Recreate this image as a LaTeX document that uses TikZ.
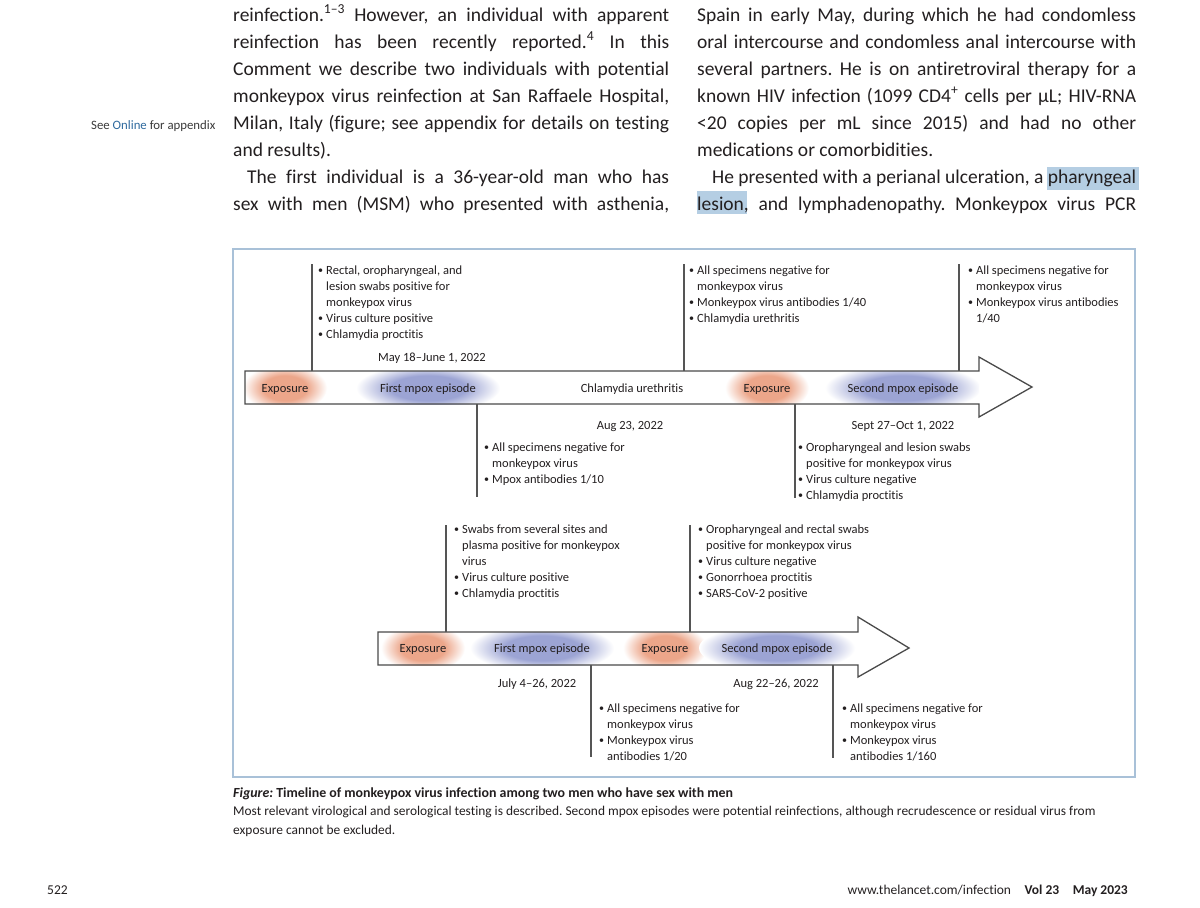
\documentclass[tikz,border=0pt]{standalone}
\usepackage{fontspec}
\setmainfont{Carlito}[Ligatures=NoCommon]
\usetikzlibrary{positioning}

\definecolor{ink}{HTML}{231F20}
\definecolor{boxblue}{HTML}{A9C1D8}
\definecolor{hilite}{HTML}{B5CEE3}
\definecolor{onlineblue}{HTML}{2F6A9E}
\definecolor{notegray}{HTML}{3A3A3A}
\definecolor{tickgray}{HTML}{555555}
\definecolor{arrowgray}{HTML}{4A4A4A}
\definecolor{expo}{RGB}{236,166,138}
\definecolor{epi}{RGB}{156,164,212}

\pgfdeclareradialshading{expoglow}{\pgfpoint{0bp}{0bp}}{color(0bp)=(expo); color(13bp)=(expo); color(25bp)=(white); color(50bp)=(white)}
\pgfdeclareradialshading{epiglow}{\pgfpoint{0bp}{0bp}}{color(0bp)=(epi); color(13bp)=(epi); color(25bp)=(white); color(50bp)=(white)}

\newcommand\bu{\rule{0pt}{10pt}\makebox[8pt][l]{\raisebox{0.6pt}{\fontsize{10}{10}\selectfont\textbullet}}}
\newcommand\bc{\hspace*{8pt}}
\newcommand\jl[2]{\makebox[#1pt][s]{#2}}
\frenchspacing

\begin{document}
\begin{tikzpicture}[x=1pt, y=-1pt,
  body/.style={font=\fontsize{19.5}{27}\selectfont, text=ink, inner sep=0pt, anchor=base west},
  fig/.style={font=\fontsize{12.5}{16}\selectfont, text=ink, inner sep=0pt},
  bul/.style={fig, align=left, anchor=north west},
  lbl/.style={fig, anchor=base},
  tick/.style={draw=tickgray, line width=1.1pt},
  arrowbox/.style={draw=arrowgray, line width=1.3pt, line join=miter},
]
\useasboundingbox (0,0) rectangle (1200,908);
\fill[white] (0,0) rectangle (1200,908);

%% text above the figure
\fill[hilite] (1047,167) rectangle (1139,190);
\fill[hilite] (697,191) rectangle (747,214);

\node[body] (l1) at (233,21) {\jl{436}{reinfection.\textsuperscript{1–3} However, an individual with apparent}};
\node[body] (l2) at (233,48) {\jl{436}{reinfection has been recently reported.\textsuperscript{4} In this}};
\node[body] (l3) at (233,75) {\jl{436}{Comment we describe two individuals with potential}};
\node[body] (l4) at (233,102) {\jl{436}{monkeypox virus reinfection at San Raffaele Hospital,}};
\node[body] (l5) at (233,129) {\jl{436}{Milan, Italy (figure; see appendix for details on testing}};
\node[body] (l6) at (233,156) {and results).};
\node[body] (l7) at (247,183) {\jl{422}{The first individual is a 36-year-old man who has}};
\node[body] (l8) at (233,210) {\jl{436}{sex with men (MSM) who presented with asthenia,}};

\node[body] (r1) at (697,21) {\jl{439}{Spain in early May, during which he had condomless}};
\node[body] (r2) at (697,48) {\jl{439}{oral intercourse and condomless anal intercourse with}};
\node[body] (r3) at (697,75) {\jl{439}{several partners. He is on antiretroviral therapy for a}};
\node[body] (r4) at (697,102) {\jl{439}{known HIV infection (1099 CD4\textsuperscript{+} cells per µL; HIV-RNA}};
\node[body] (r5) at (697,129) {\jl{439}{<20 copies per mL since 2015) and had no other}};
\node[body] (r6) at (697,156) {medications or comorbidities.};
\node[body] (r7) at (712,183) {\jl{424}{He presented with a perianal ulceration, a pharyngeal}};
\node[body] (r8) at (697,210) {\jl{439}{lesion, and lymphadenopathy. Monkeypox virus PCR}};

\node[font=\fontsize{12.8}{14}\selectfont, text=notegray, inner sep=0pt, anchor=base west] (see) at (91,129)
  {See \textcolor{onlineblue}{Online} for appendix};

%% figure frame
\draw[boxblue, line width=1.2pt] (233,249) rectangle (1135,777);

%% glows
\begin{scope}
\clip (245,371) rectangle (979,404);
\shade[shading=expoglow] (285,388) ellipse [x radius=42, y radius=24];
\shade[shading=epiglow] (428,388) ellipse [x radius=72, y radius=24];
\shade[shading=expoglow] (767,388) ellipse [x radius=42, y radius=24];
\shade[shading=epiglow] (903,388) ellipse [x radius=78, y radius=24];
\end{scope}
\begin{scope}
\clip (378,632) rectangle (858,665);
\shade[shading=expoglow] (423,648) ellipse [x radius=42, y radius=24];
\shade[shading=epiglow] (542,648) ellipse [x radius=72, y radius=24];
\shade[shading=expoglow] (665,648) ellipse [x radius=42, y radius=24];
\shade[shading=epiglow] (777,648) ellipse [x radius=78, y radius=24];
\end{scope}

%% first man
\draw[arrowbox] (245,371) -- (979,371) -- (979,357) -- (1032,387) -- (979,417) -- (979,404) -- (245,404) -- cycle;

\node[lbl] (ex1) at (285,392) {Exposure};
\node[lbl] (ep1) at (428,392) {First mpox episode};
\node[lbl] (cu) at (632,392) {Chlamydia urethritis};
\node[lbl] (ex2) at (767,392) {Exposure};
\node[lbl] (ep2) at (903,392) {Second mpox episode};

\node[lbl] (d1) at (432,361) {May 18–June 1, 2022};
\node[lbl] (d2) at (630,429) {Aug 23, 2022};
\node[lbl] (d3) at (903,429) {Sept 27–Oct 1, 2022};

\node[bul] (bA) at (318,264) {\bu Rectal, oropharyngeal, and\\ \bc lesion swabs positive for\\ \bc monkeypox virus\\ \bu Virus culture positive\\ \bu Chlamydia proctitis};
\node[bul] (bB) at (689,264) {\bu All specimens negative for\\ \bc monkeypox virus\\ \bu Monkeypox virus antibodies 1/40\\ \bu Chlamydia urethritis};
\node[bul] (bC) at (968,264) {\bu All specimens negative for\\ \bc monkeypox virus\\ \bu Monkeypox virus antibodies\\ \bc 1/40};
\node[bul] (bD) at (484,441) {\bu All specimens negative for\\ \bc monkeypox virus\\ \bu Mpox antibodies 1/10};
\node[bul] (bE) at (798,441) {\bu Oropharyngeal and lesion swabs\\ \bc positive for monkeypox virus\\ \bu Virus culture negative\\ \bu Chlamydia proctitis};

\coordinate (tA) at (312,371); \coordinate (tA2) at (312,264);
\coordinate (tB) at (684,371); \coordinate (tB2) at (684,264);
\coordinate (tC) at (959,371); \coordinate (tC2) at (959,264);
\coordinate (tD) at (477,404); \coordinate (tD2) at (477,497);
\coordinate (tE) at (795,404); \coordinate (tE2) at (795,498);
\draw[tick] (tA) -- (tA2);
\draw[tick] (tB) -- (tB2);
\draw[tick] (tC) -- (tC2);
\draw[tick] (tD) -- (tD2);
\draw[tick] (tE) -- (tE2);

%% second man
\draw[arrowbox] (378,632) -- (858,632) -- (858,617) -- (909,648) -- (858,677) -- (858,665) -- (378,665) -- cycle;

\node[lbl] (ex3) at (423,652) {Exposure};
\node[lbl] (ep3) at (542,652) {First mpox episode};
\node[lbl] (ex4) at (665,652) {Exposure};
\node[lbl] (ep4) at (777,652) {Second mpox episode};

\node[lbl] (d4) at (537,687) {July 4–26, 2022};
\node[lbl] (d5) at (776,687) {Aug 22–26, 2022};

\node[bul] (bF) at (454,523) {\bu Swabs from several sites and\\ \bc plasma positive for monkeypox\\ \bc virus\\ \bu Virus culture positive\\ \bu Chlamydia proctitis};
\node[bul] (bG) at (698,523) {\bu Oropharyngeal and rectal swabs\\ \bc positive for monkeypox virus\\ \bu Virus culture negative\\ \bu Gonorrhoea proctitis\\ \bu SARS-CoV-2 positive};
\node[bul] (bH) at (599,702) {\bu All specimens negative for\\ \bc monkeypox virus\\ \bu Monkeypox virus\\ \bc antibodies 1/20};
\node[bul] (bI) at (842,702) {\bu All specimens negative for\\ \bc monkeypox virus\\ \bu Monkeypox virus\\ \bc antibodies 1/160};

\coordinate (tF) at (446,632); \coordinate (tF2) at (446,525);
\coordinate (tG) at (690,632); \coordinate (tG2) at (690,525);
\coordinate (tH) at (591,665); \coordinate (tH2) at (591,757);
\coordinate (tI) at (833,665); \coordinate (tI2) at (833,758);
\draw[tick] (tF) -- (tF2);
\draw[tick] (tG) -- (tG2);
\draw[tick] (tH) -- (tH2);
\draw[tick] (tI) -- (tI2);

%% caption and footer
\node[font=\fontsize{13.4}{18.5}\selectfont, text=ink, inner sep=0pt, align=left, anchor=north west] (cap) at (233,787)
  {\rule{0pt}{10pt}{\fontsize{13.9}{18.5}\selectfont\textbf{\textit{Figure:} Timeline of monkeypox virus infection among two men who have sex with men}}\\
   Most relevant virological and serological testing is described. Second mpox episodes were potential reinfections, although recrudescence or residual virus from\\
   exposure cannot be excluded.};

\node[font=\fontsize{13.5}{16}\selectfont, text=ink, inner sep=0pt, anchor=base west] (pg) at (47,894) {522};
\node[font=\fontsize{13.5}{16}\selectfont, text=ink, inner sep=0pt, anchor=base east] (jr) at (1128,894)
  {www.thelancet.com/infection\quad\textbf{Vol 23\quad May 2023}};

\end{tikzpicture}
\end{document}
